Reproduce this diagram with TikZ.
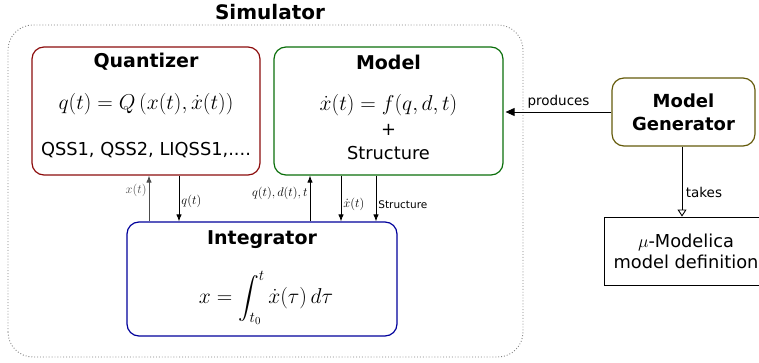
\RequirePackage{fix-cm}
\documentclass[tikz,border=0pt]{standalone}
\usepackage{amsmath}
\usepackage[no-math]{fontspec}
\setmainfont{DejaVu Sans}
\usetikzlibrary{positioning}
\usetikzlibrary{calc}
\usetikzlibrary{arrows.meta}

\definecolor{quantred}{RGB}{140,12,12}
\definecolor{modelgreen}{RGB}{10,110,10}
\definecolor{integblue}{RGB}{0,0,155}
\definecolor{genolive}{RGB}{100,90,10}

\begin{document}
\begin{tikzpicture}[x=1pt, y=1pt]
    % boxes, text and arrows of the simulator diagram
    \tikzstyle{block} = [draw, rounded corners=12pt, line width=1.2pt, inner sep=0pt]
    \tikzstyle{title} = [font=\fontsize{19}{22}\selectfont\bfseries]
    \tikzstyle{body} = [font=\fontsize{17.8}{21}\selectfont, inner sep=1pt]
    \tikzstyle{formula} = [font=\fontsize{21.5}{25}\selectfont, inner sep=1pt]
    \tikzstyle{flow} = [-{Latex[length=7pt, width=5.5pt]}, line width=0.9pt]
    \tikzstyle{tag} = [font=\fontsize{12.5}{14}\selectfont, inner sep=2pt]

    \useasboundingbox (0,0) rectangle (759,362);

    % simulator frame
    \draw[gray, dotted, line width=0.9pt, rounded corners=25pt] (8,5) rectangle (523,337);
    \node[font=\fontsize{20}{24}\selectfont\bfseries] (simtitle) at (270,350) {Simulator};

    % the three blocks
    \node (quant) [block, draw=quantred, minimum width=228, minimum height=128] at (146,251) {};
    \node (model) [block, draw=modelgreen, minimum width=229, minimum height=128] at (388.5,251) {};
    \node (integ) [block, draw=integblue, minimum width=270, minimum height=114] at (262,83) {};

    \node (quanttitle) [title] at (146,300) {Quantizer};
    \node (quanteq) [formula] at (146,258) {$q(t) = Q\left(x(t), \dot{x}(t)\right)$};
    \node (quantlist) [body] at (146,212) {QSS1, QSS2, LIQSS1,....};

    \node (modeltitle) [title] at (388.5,300) {Model};
    \node (modeleq) [formula] at (388.5,257) {$\dot{x}(t) = f(q,d,t)$};
    \node (modelplus) [body] at (388.5,232) {+};
    \node (modelstruct) [body] at (388.5,209) {Structure};

    \node (integtitle) [title] at (262,122) {Integrator};
    \node (integeq) [formula] at (266,64) {$\displaystyle x = \int_{t_0}^{t} \dot{x}(\tau)\, d\tau$};

    % generator and model source
    \node (gen) [block, draw=genolive, minimum width=143, minimum height=68,
        title, font=\fontsize{18}{23}\selectfont\bfseries, align=center] at (683.5,250) {Model\\Generator};
    \node (mu) [draw, line width=0.9pt, minimum width=164, minimum height=68,
        body, align=center] at (686,111) {$\mu$-Modelica\\model definition};

    % exchanges between blocks
    \draw[flow, black!70] ([xshift=3]quant.south |- integ.north) -- ([xshift=3]quant.south)
        node[tag, pos=0.68, left] {$x(t)$};
    \draw[flow] ([xshift=33]quant.south) -- ([xshift=33]quant.south |- integ.north)
        node[tag, pos=0.57, right] {$q(t)$};
    \draw[flow] ([xshift=-78.5]model.south |- integ.north) -- ([xshift=-78.5]model.south)
        node[tag, pos=0.62, left] {$q(t),d(t),t$};
    \draw[flow] ([xshift=-47.5]model.south) -- ([xshift=-47.5]model.south |- integ.north)
        node[tag, pos=0.62, right] {$\dot{x}(t)$};
    \draw[flow] ([xshift=-12.5]model.south) -- ([xshift=-12.5]model.south |- integ.north)
        node[tag, pos=0.64, right, font=\fontsize{10.5}{12}\selectfont] {Structure};

    \draw[-{Triangle[length=9pt, width=8pt]}, line width=0.9pt] (gen.west) -- ([xshift=2]model.east |- gen.west)
        node[pos=0.5, above, font=\fontsize{13.5}{16}\selectfont] {produces};
    \draw[-{Triangle[open, length=7pt, width=9pt]}, line width=0.9pt] ([xshift=-1.5]gen.south) -- ([xshift=-1.5]gen.south |- mu.north)
        node[pos=0.66, right, font=\fontsize{13.5}{16}\selectfont] {takes};
\end{tikzpicture}
\end{document}
